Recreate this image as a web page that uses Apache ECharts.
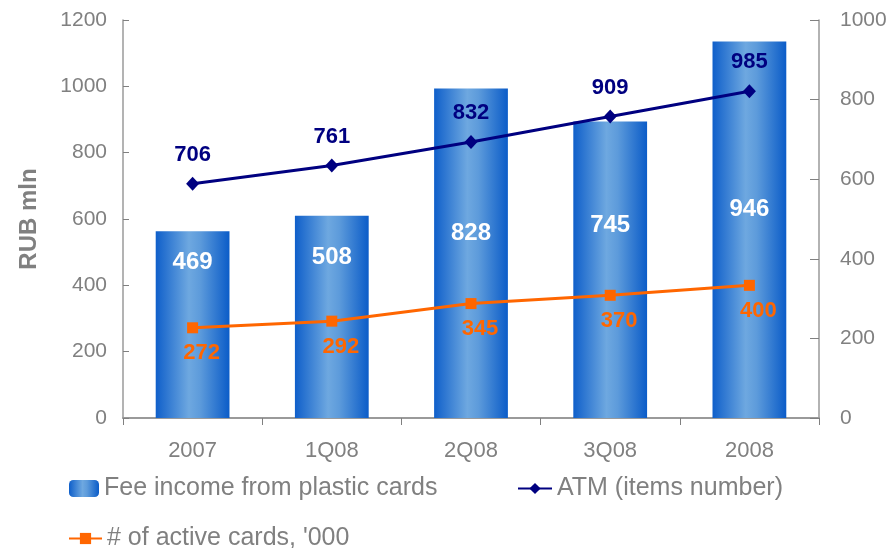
<!DOCTYPE html>
<html>
<head>
<meta charset="utf-8">
<script src="https://cdn.jsdelivr.net/npm/echarts@6/dist/echarts.min.js"></script>
<style>
  html, body { margin: 0; padding: 0; background: #ffffff; }
  #chart { width: 896px; height: 548px; }
</style>
</head>
<body>
<div id="chart"></div>
<script>
// Periods on the category axis
const periods = ['2007', '1Q08', '2Q08', '3Q08', '2008'];
// Fee income from plastic cards, RUB mln (right-hand scale)
const feeIncome = [469, 508, 828, 745, 946];
// ATM network size, units (left-hand scale)
const atmCount = [706, 761, 832, 909, 985];
// Active cards, thousands (left-hand scale)
const activeCards = [272, 292, 345, 370, 400];

// Left and right axis tick values
const leftTicks = [0, 200, 400, 600, 800, 1000, 1200];
const rightTicks = [0, 200, 400, 600, 800, 1000];

// Height (px above the baseline) at which each bar's value is written
const barLabelLift = [157, 162, 186, 194, 210];

const FONT = 'Arial, "Liberation Sans", sans-serif';
const GREY = '#808080';
const NAVY = '#000080';
const ORANGE = '#ff6600';

const barFill = new echarts.graphic.LinearGradient(0, 0, 1, 0, [
  { offset: 0, color: '#0f5fca' },
  { offset: 0.45, color: '#6ea8e0' },
  { offset: 0.6, color: '#5d9bdb' },
  { offset: 1, color: '#0b5cc8' }
]);

const legendText = { color: GREY, fontSize: 25, fontFamily: FONT };
const plain = v => String(v);

const chart = echarts.init(document.getElementById('chart'), null, { renderer: 'canvas' });

chart.setOption({
  animation: false,
  backgroundColor: '#ffffff',
  textStyle: { fontFamily: FONT },
  grid: { left: 123, right: 77, top: 20, bottom: 130, containLabel: false },
  legend: [
    {
      left: 69, top: 476, padding: 0, itemGap: 0, itemWidth: 30, itemHeight: 17,
      textStyle: legendText,
      data: [{ name: 'Fee income from plastic cards' }]
    },
    {
      left: 517, top: 476, padding: 0, itemGap: 0, itemWidth: 34, itemHeight: 14,
      textStyle: legendText,
      data: [{ name: 'ATM (items number)' }]
    },
    {
      left: 68, top: 526, padding: 0, itemGap: 0, itemWidth: 33, itemHeight: 14,
      textStyle: legendText,
      data: [{ name: "# of active cards, '000" }]
    }
  ],
  xAxis: {
    type: 'category',
    data: periods,
    boundaryGap: true,
    axisLine: { lineStyle: { color: '#9a9a9a', width: 2 } },
    axisTick: { show: true, inside: false, length: 7, lineStyle: { color: '#808080' } },
    axisLabel: { color: GREY, fontSize: 22, margin: 22, fontFamily: FONT }
  },
  yAxis: [
    {
      type: 'value', position: 'left', min: leftTicks[0], max: leftTicks[leftTicks.length - 1], interval: 200,
      name: 'RUB mln', nameLocation: 'middle', nameGap: 82, nameRotate: 90,
      nameTextStyle: { color: GREY, fontSize: 24, fontWeight: 'bold', fontFamily: FONT },
      axisLine: { show: true, lineStyle: { color: '#9a9a9a', width: 1.5 } },
      axisTick: { show: true, inside: true, length: 6, lineStyle: { color: '#808080' } },
      axisLabel: { color: GREY, fontSize: 21, margin: 16, fontFamily: FONT, formatter: plain },
      splitLine: { show: false }
    },
    {
      type: 'value', position: 'right', min: rightTicks[0], max: rightTicks[rightTicks.length - 1], interval: 200,
      axisLine: { show: true, lineStyle: { color: '#9a9a9a', width: 1.5 } },
      axisTick: { show: true, inside: true, length: 9, lineStyle: { color: '#808080' } },
      axisLabel: { color: GREY, fontSize: 21, margin: 21, fontFamily: FONT, formatter: plain },
      splitLine: { show: false }
    }
  ],
  series: [
    {
      name: 'Fee income from plastic cards',
      type: 'bar',
      yAxisIndex: 1,
      barWidth: '53%',
      itemStyle: { color: barFill },
      data: feeIncome.map((v, i) => ({
        value: v,
        label: {
          show: true,
          position: 'insideBottom',
          distance: barLabelLift[i] - 13,
          color: '#ffffff',
          fontSize: 24,
          fontWeight: 'bold',
          fontFamily: FONT
        }
      })),
      z: 1
    },
    {
      name: 'ATM (items number)',
      type: 'line',
      yAxisIndex: 0,
      data: atmCount,
      symbol: 'diamond',
      symbolSize: [13, 14],
      lineStyle: { color: NAVY, width: 3 },
      itemStyle: { color: NAVY },
      label: {
        show: true, position: 'top', distance: 11,
        color: NAVY, fontSize: 22, fontWeight: 'bold', fontFamily: FONT
      },
      z: 3
    },
    {
      name: "# of active cards, '000",
      type: 'line',
      yAxisIndex: 0,
      data: activeCards,
      symbol: 'rect',
      symbolSize: 11,
      lineStyle: { color: ORANGE, width: 3 },
      itemStyle: { color: ORANGE },
      label: {
        show: true, position: 'bottom', distance: 9, offset: [9, 0],
        color: ORANGE, fontSize: 22, fontWeight: 'bold', fontFamily: FONT
      },
      z: 3
    }
  ]
});
</script>
</body>
</html>
